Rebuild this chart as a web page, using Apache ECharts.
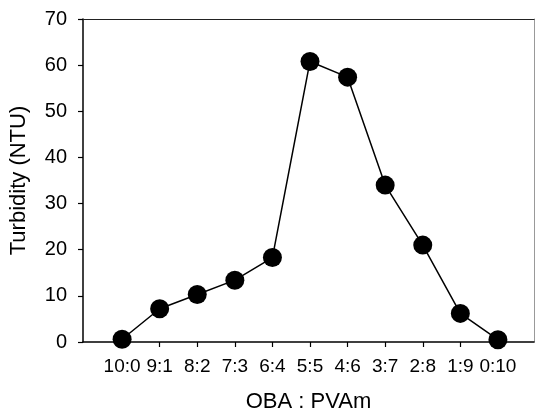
<!DOCTYPE html>
<html><head><meta charset="utf-8">
<script src="https://cdn.jsdelivr.net/npm/echarts@6/dist/echarts.min.js"></script>
<style>html,body{margin:0;padding:0;background:#fff}#c{width:535px;height:418px}</style>
</head><body><div id="c"></div>
<script>
const categories = ['10:0','9:1','8:2','7:3','6:4','5:5','4:6','3:7','2:8','1:9','0:10'];
const turbidity = [0.6, 7.2, 10.3, 13.4, 18.3, 60.8, 57.4, 34.0, 21.0, 6.2, 0.5];
const yTicks = [0,10,20,30,40,50,60,70];

const idx = categories.map((c,i)=>i);
const font = 'Liberation Sans, Arial, sans-serif';
const chart = echarts.init(document.getElementById('c'), null, {renderer:'canvas'});
chart.setOption({
  animation:false,
  backgroundColor:'#fff',
  grid:{left:82, right:1, top:19, bottom:73, show:false},
  xAxis:[{
    type:'value', min:-1.04, max:10.96,
    splitLine:{show:false},
    axisLine:{onZero:false, lineStyle:{color:'#000', width:1.5}},
    axisTick:{show:true, inside:false, length:5, lineStyle:{color:'#000', width:1.2}, customValues: idx},
    axisLabel:{color:'#000', fontSize:19, fontFamily:font, margin:15, customValues: idx,
      formatter:(v)=>categories[Math.round(v)] ?? ''},
    name:'OBA : PVAm', nameLocation:'middle', nameGap:49,
    nameTextStyle:{color:'#000', fontSize:22, fontFamily:font}
  },{
    type:'value', position:'top', min:-1.04, max:10.96,
    axisLine:{show:true, onZero:false, lineStyle:{color:'#222', width:1.2}},
    axisTick:{show:false}, axisLabel:{show:false}, splitLine:{show:false}
  }],
  yAxis:[{
    type:'value', min:0, max:70, interval:10,
    splitLine:{show:false},
    axisLine:{show:true, onZero:false, lineStyle:{color:'#000', width:1.5}},
    axisTick:{show:true, length:5, lineStyle:{color:'#000', width:1.2}},
    axisLabel:{color:'#000', fontSize:20, fontFamily:font, margin:16,
      formatter:(v)=> yTicks.includes(v) ? String(v) : ''},
    name:'Turbidity (NTU)', nameLocation:'middle', nameGap:53,
    nameTextStyle:{color:'#000', fontSize:22, fontFamily:font}
  },{
    type:'value', position:'right', min:0, max:70,
    axisLine:{show:true, onZero:false, lineStyle:{color:'#999', width:1}},
    axisTick:{show:false}, axisLabel:{show:false}, splitLine:{show:false}
  }],
  series:[{
    type:'line',
    data: idx.map(i=>[i, turbidity[i]]),
    symbol:'circle', symbolSize:19,
    lineStyle:{color:'#000', width:1.5},
    itemStyle:{color:'#000'},
    clip:false
  }]
});
</script></body></html>
